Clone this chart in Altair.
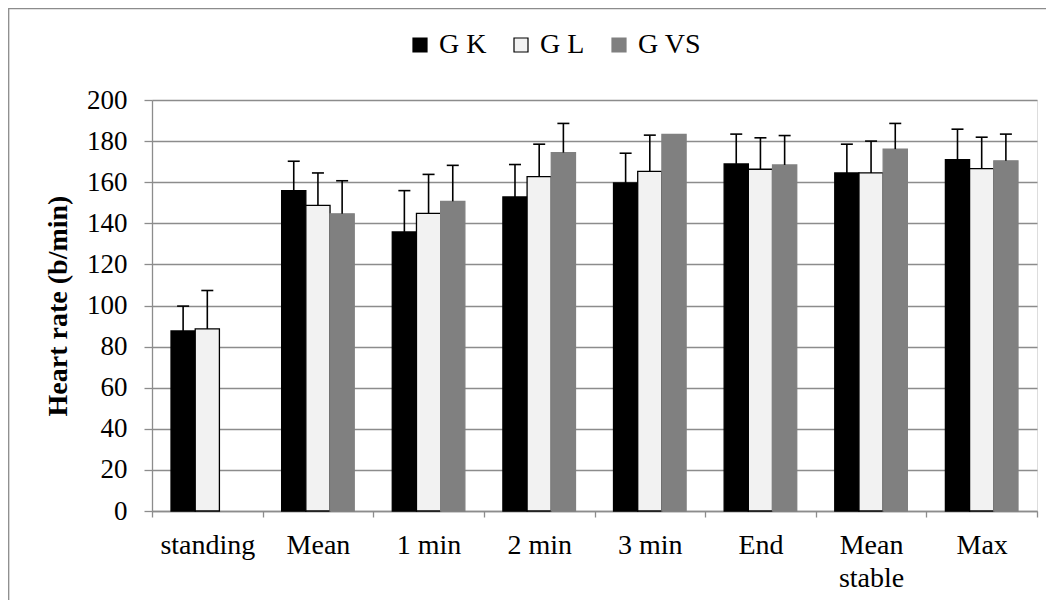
import altair as alt
import pandas as pd

categories = ["standing", "Mean", "1 min", "2 min", "3 min", "End", "Mean stable", "Max"]
series_names = ["G K", "G L", "G VS"]

gk = [87.6, 155.9, 135.8, 152.8, 159.6, 168.9, 164.5, 171.0]
gk_err = [12.1, 14.3, 20.1, 15.8, 14.5, 14.5, 14.0, 14.8]
gl = [88.6, 148.7, 144.8, 162.7, 165.3, 166.3, 164.5, 166.6]
gl_err = [18.7, 15.8, 19.0, 15.8, 17.6, 15.3, 15.5, 15.3]
gvs = [None, 144.6, 150.7, 174.4, 183.2, 168.4, 176.1, 170.4]
gvs_err = [None, 16.1, 17.5, 14.2, None, 14.3, 12.5, 13.0]

y_ticks = [0, 20, 40, 60, 80, 100, 120, 140, 160, 180, 200]

rows = []
for name, vals, errs in zip(series_names, [gk, gl, gvs], [gk_err, gl_err, gvs_err]):
    for c, v, e in zip(categories, vals, errs):
        if v is None:
            continue
        rows.append({"cat": c, "series": name, "value": v,
                     "top": (v + e) if e is not None else None})
df = pd.DataFrame(rows)
df_err = df.dropna(subset=["top"])

FONT = "Liberation Serif"
GRID = "#8c8c8c"
W, H = 885, 411
PAD_L, PAD_T = 144, 92

x_enc = alt.X("cat:N", sort=categories,
              scale=alt.Scale(paddingInner=0, paddingOuter=0),
              axis=alt.Axis(title=None, labelAngle=0, tickBand="extent",
                            labelFont=FONT, labelFontSize=28, labelColor="black",
                            labelLineHeight=33, labelPadding=14,
                            labelExpr="datum.label == 'Mean stable' ? ['Mean', 'stable'] : datum.label",
                            tickSize=6, tickColor=GRID, tickWidth=1.3,
                            domainColor=GRID, domainWidth=1.3, grid=False))
xo_enc = alt.XOffset("series:N", sort=series_names,
                     scale=alt.Scale(paddingInner=0, paddingOuter=0.786))
y_scale = alt.Scale(domain=[0, 200], nice=False)

legend = alt.Legend(title=None, orient="none", legendX=254, legendY=-69,
                    direction="horizontal", symbolType="square", symbolSize=196,
                    symbolStrokeWidth=1.2, labelFont=FONT, labelFontSize=28,
                    labelColor="black", labelOffset=5, columnPadding=20)

bars = alt.Chart(df).mark_bar(strokeWidth=1.3).encode(
    x=x_enc,
    xOffset=xo_enc,
    y=alt.Y("value:Q", scale=y_scale,
            axis=alt.Axis(values=y_ticks, title="Heart rate (b/min)",
                          titleFont=FONT, titleFontSize=28, titleFontWeight="bold",
                          titleColor="black", titlePadding=14,
                          labelFont=FONT, labelFontSize=27, labelColor="black",
                          labelPadding=17, tickSize=8, tickColor=GRID, tickWidth=1.3,
                          domainColor=GRID, domainWidth=1.3,
                          gridColor=GRID, gridWidth=1.3)),
    fill=alt.Fill("series:N", sort=series_names,
                  scale=alt.Scale(domain=series_names, range=["#000000", "#f2f2f2", "#808080"]),
                  legend=legend),
    stroke=alt.Stroke("series:N", sort=series_names,
                      scale=alt.Scale(domain=series_names, range=["#000000", "#000000", "#808080"]),
                      legend=legend),
)

err_line = alt.Chart(df_err).mark_rule(color="black", strokeWidth=1.6).encode(
    x=alt.X("cat:N", sort=categories),
    xOffset=alt.XOffset("series:N", sort=series_names),
    y=alt.Y("value:Q", scale=y_scale),
    y2="top:Q",
)

err_cap = alt.Chart(df_err).mark_tick(color="black", thickness=1.6, size=12,
                                      orient="horizontal", opacity=1).encode(
    x=alt.X("cat:N", sort=categories),
    xOffset=alt.XOffset("series:N", sort=series_names),
    y=alt.Y("top:Q", scale=y_scale),
)

frame = alt.Chart(pd.DataFrame({"a": [0]})).mark_rect(
    fill=None, stroke=GRID, strokeWidth=1.3, clip=False
).encode(
    x=alt.value(-PAD_L + 0.7), x2=alt.value(W + 200),
    y=alt.value(-PAD_T + 0.7), y2=alt.value(H + 200),
)

chart = alt.layer(frame, bars, err_line, err_cap).properties(
    width=W, height=H,
    autosize=alt.AutoSizeParams(type="none"),
    padding={"left": PAD_L, "top": PAD_T, "right": 1038 - PAD_L - W, "bottom": 592 - PAD_T - H},
).configure_view(stroke=None).configure(background="white")

chart.save("out.html", embed_options={"renderer": "svg", "actions": False})
